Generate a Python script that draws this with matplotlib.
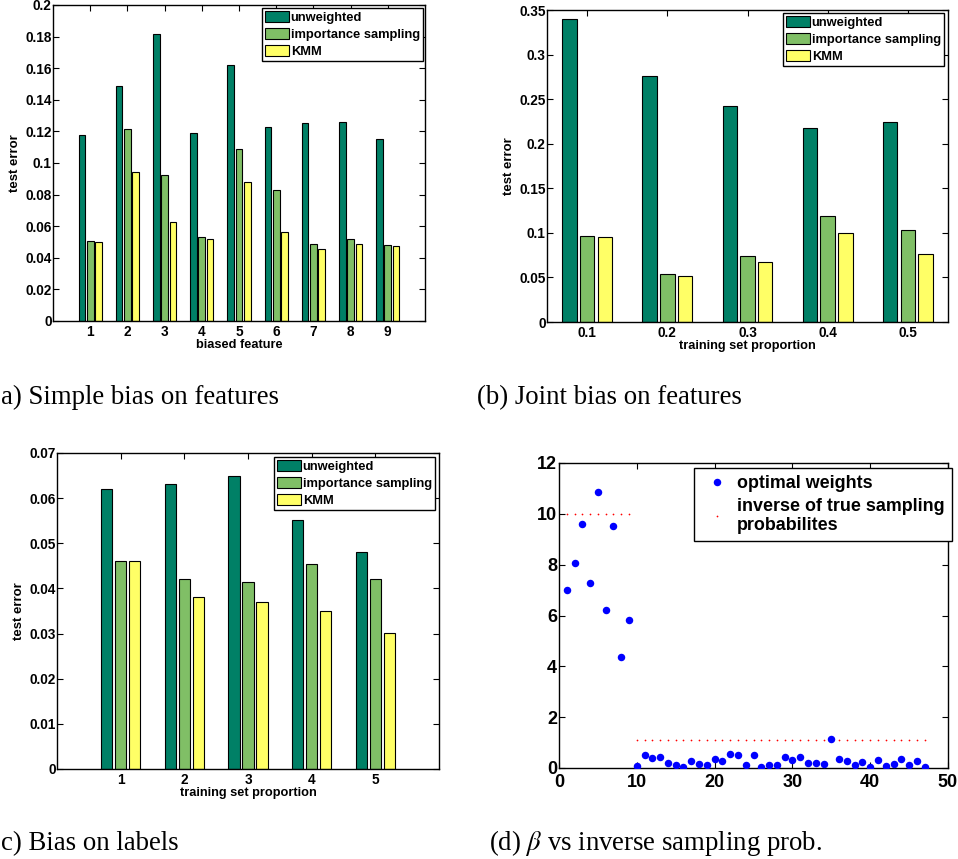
import numpy as np
import matplotlib
matplotlib.use("Agg")
import matplotlib.pyplot as plt
from matplotlib.ticker import FuncFormatter

# ---------------- data ----------------
series_names = ["unweighted", "importance sampling", "KMM"]

a_categories = ["1", "2", "3", "4", "5", "6", "7", "8", "9"]
a_unweighted = [0.118, 0.149, 0.1815, 0.1188, 0.162, 0.1225, 0.1255, 0.126, 0.1154]
a_importance = [0.0506, 0.1217, 0.0926, 0.053, 0.109, 0.0829, 0.0487, 0.0519, 0.0483]
a_kmm = [0.0498, 0.0941, 0.0624, 0.0521, 0.088, 0.0565, 0.0456, 0.0489, 0.0475]
a_yticks = [0, 0.02, 0.04, 0.06, 0.08, 0.1, 0.12, 0.14, 0.16, 0.18, 0.2]

b_categories = ["0.1", "0.2", "0.3", "0.4", "0.5"]
b_unweighted = [0.3395, 0.2759, 0.2418, 0.2179, 0.2239]
b_importance = [0.097, 0.0543, 0.0745, 0.1187, 0.103]
b_kmm = [0.0951, 0.0513, 0.0674, 0.0996, 0.0767]
b_yticks = [0, 0.05, 0.1, 0.15, 0.2, 0.25, 0.3, 0.35]

c_categories = ["1", "2", "3", "4", "5"]
c_unweighted = [0.062, 0.0631, 0.065, 0.0551, 0.048]
c_importance = [0.046, 0.0421, 0.0415, 0.0455, 0.042]
c_kmm = [0.046, 0.0381, 0.037, 0.035, 0.0301]
c_yticks = [0, 0.01, 0.02, 0.03, 0.04, 0.05, 0.06, 0.07]

d_index = list(range(1, 48))
d_optimal_weights = [6.99, 8.08, 9.6, 7.28, 10.86, 6.23, 9.53, 4.35, 5.81,
                     0.07, 0.51, 0.41, 0.42, 0.2, 0.13, 0.03, 0.28, 0.17, 0.12,
                     0.37, 0.29, 0.54, 0.5, 0.13, 0.52, 0.03, 0.12, 0.12, 0.43,
                     0.3, 0.42, 0.2, 0.2, 0.16, 1.15, 0.37, 0.26, 0.1, 0.22,
                     0.05, 0.3, 0.08, 0.17, 0.34, 0.1, 0.28, 0.05]
d_inverse_prob = [10.0] * 9 + [1 / 0.9] * 38
d_xticks = [0, 10, 20, 30, 40, 50]
d_yticks = [0, 2, 4, 6, 8, 10, 12]

captions = ["a) Simple bias on features", "(b) Joint bias on features",
            "c) Bias on labels", r"(d) $\beta$ vs inverse sampling prob."]

# ---------------- style ----------------
plt.rcParams['font.family'] = ['Liberation Sans', 'DejaVu Sans']
plt.rcParams['mathtext.fontset'] = 'stix'

colors = ["#008066", "#80BF66", "#FFFF66"]
W, H = 958, 859
fig = plt.figure(figsize=(W / 100, H / 100), dpi=100)


def ax_px(left, top, right, bottom):
    return fig.add_axes([left / W, 1 - bottom / H, (right - left) / W, (bottom - top) / H])


def gfmt(v, pos):
    return "%g" % v


def style_axes(ax, fs, xpad, ypad):
    ax.tick_params(direction='in', top=True, right=True, length=4, width=0.8,
                   labelsize=fs)
    ax.tick_params(axis='x', pad=xpad)
    ax.tick_params(axis='y', pad=ypad)
    for lab in ax.get_xticklabels() + ax.get_yticklabels():
        lab.set_fontweight('bold')
    for s in ax.spines.values():
        s.set_linewidth(1.0)


def bar_panel(rect, cats, vals, yticks, xlabel, xlim, offset, width, legend_anchor):
    ax = ax_px(*rect)
    pos = np.arange(1, len(cats) + 1)
    for k, (v, c, name) in enumerate(zip(vals, colors, series_names)):
        ax.bar(pos + (k - 1) * offset, v, width=width, color=c, edgecolor='black',
               linewidth=0.8, label=name, zorder=2)
    ax.set_xlim(*xlim)
    ax.set_ylim(yticks[0], yticks[-1])
    ax.set_yticks(yticks)
    ax.yaxis.set_major_formatter(FuncFormatter(gfmt))
    ax.set_xticks(pos)
    ax.set_xticklabels(cats)
    style_axes(ax, 9.8, 3, 1)
    ax.set_ylabel("test error", fontsize=9.5, fontweight='bold', labelpad=3)
    ax.set_xlabel(xlabel, fontsize=9.2, fontweight='bold', labelpad=0)
    leg = ax.legend(loc='upper right', bbox_to_anchor=(legend_anchor[0] / W, 1 - legend_anchor[1] / H),
                    bbox_transform=fig.transFigure, borderaxespad=0, fancybox=False,
                    edgecolor='black', framealpha=1, prop={'size': 9.3, 'weight': 'bold'},
                    handlelength=1.9, handleheight=0.95, handletextpad=0.1,
                    labelspacing=0.3, borderpad=0.25)
    leg.get_frame().set_linewidth(1.0)
    return ax


# (a)
bar_panel((53, 5, 425, 321), a_categories, [a_unweighted, a_importance, a_kmm],
          a_yticks, "biased feature", (0, 10), 0.223, 0.18, (423, 8))

# (b)
bar_panel((547, 10, 948, 322), b_categories, [b_unweighted, b_importance, b_kmm],
          b_yticks, "training set proportion", (0.5, 5.5), 0.22, 0.18, (944, 13))

# (c)
bar_panel((57, 453, 439, 769), c_categories, [c_unweighted, c_importance, c_kmm],
          c_yticks, "training set proportion", (0, 6), 0.222, 0.178, (435, 457))

# (d)
axd = ax_px(559, 463, 948, 768)
axd.plot(d_index, d_optimal_weights, 'o', color='#0000FF', markersize=5.4,
         markeredgewidth=0, label='optimal weights', zorder=3)
axd.plot(d_index, d_inverse_prob, '.', color='#FF0000', markersize=2.5,
         markeredgewidth=0, label='inverse of true sampling\nprobabilites', zorder=2)
axd.set_xlim(0, 50)
axd.set_ylim(0, 12)
axd.set_xticks(d_xticks)
axd.set_yticks(d_yticks)
style_axes(axd, 13, 4.5, 1.5)
legd = axd.legend(loc='upper right', bbox_to_anchor=(952 / W, 1 - 468 / H),
                  bbox_transform=fig.transFigure, borderaxespad=0, fancybox=False,
                  edgecolor='black', framealpha=1, prop={'size': 12.9, 'weight': 'bold'},
                  handlelength=1.8, handletextpad=0.2, labelspacing=0.3,
                  borderpad=0.4, markerscale=1.0)
legd.get_frame().set_linewidth(1.0)

# captions
cap_pos = [(1, 404), (477, 404), (1, 850), (489, 850)]
for (x, y), txt in zip(cap_pos, captions):
    fig.text(x / W, 1 - y / H, txt, fontsize=19.3, family='Liberation Serif',
             fontweight='normal', ha='left', va='baseline')

fig.savefig("out.png", dpi=100)
